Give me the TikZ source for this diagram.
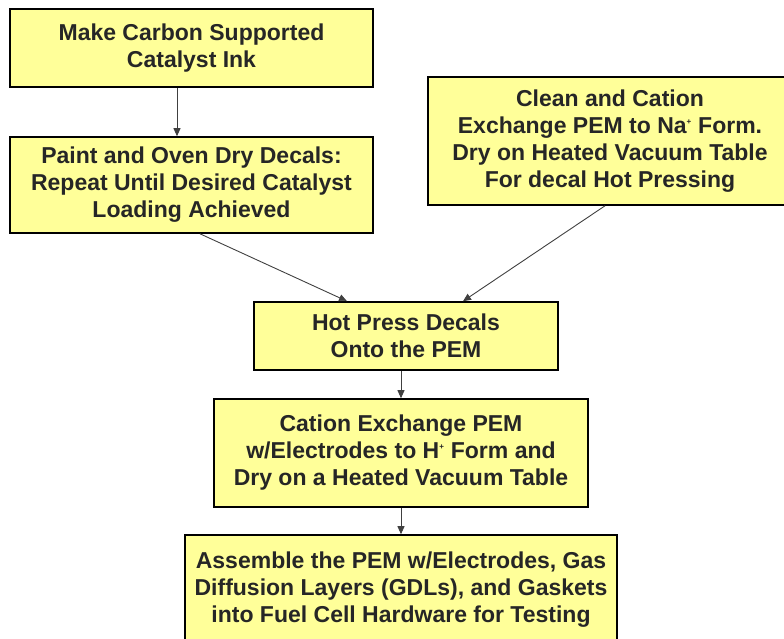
\documentclass[tikz,border=0pt]{standalone}
\usepackage{fontspec}
\setmainfont{Liberation Sans}
\usetikzlibrary{arrows.meta}
\definecolor{stageYellow}{RGB}{255, 255, 153}

\begin{document}
\begin{tikzpicture}[
  x=1pt, y=-1pt,
  stage/.style={
    draw=black,
    line width=1.6pt,
    fill=stageYellow,
    align=center,
    inner sep=0pt,
    text=black!85,
    font=\fontsize{23}{27}\selectfont\bfseries
  },
  flow/.style={
    -{Triangle[length=8pt,width=7pt]},
    draw=black!75,
    line width=0.9pt
  }
]
  \clip (0,0) rectangle (784,639);
  \node[stage,minimum width=363pt,minimum height=78pt] (ink) at (191.5,48)
    {Make Carbon Supported\\Catalyst Ink};
  \node[stage,minimum width=363pt,minimum height=96pt] (paint) at (191.5,185)
    {Paint and Oven Dry Decals:\\Repeat Until Desired Catalyst\\Loading Achieved};
  \node[stage,minimum width=364pt,minimum height=128pt] (membrane) at (610,141)
    {Clean and Cation\\Exchange PEM to Na\textsuperscript{\footnotesize+} Form.\\Dry on Heated Vacuum Table\\For decal Hot Pressing};
  \node[stage,minimum width=304pt,minimum height=68pt] (press) at (406,336)
    {Hot Press Decals\\Onto the PEM};
  \node[stage,minimum width=374pt,minimum height=108pt] (exchange) at (401,453)
    {Cation Exchange PEM\\w/Electrodes to H\textsuperscript{\footnotesize+} Form and\\Dry on a Heated Vacuum Table};
  \node[stage,minimum width=432pt,minimum height=110pt] (assemble) at (401,590)
    {Assemble the PEM w/Electrodes, Gas\\Diffusion Layers (GDLs), and Gaskets\\into Fuel Cell Hardware for Testing};

  \draw[flow] ([xshift=-14.5pt]ink.south) -- ([xshift=-14.5pt]paint.north);
  \draw[flow] ([xshift=8.5pt]paint.south) -- ([xshift=-59pt]press.north);
  \draw[flow] ([xshift=-5pt]membrane.south) -- ([xshift=57pt]press.north);
  \draw[flow] ([xshift=-5pt]press.south) -- (exchange.north);
  \draw[flow] (exchange.south) -- (assemble.north);
\end{tikzpicture}
\end{document}
